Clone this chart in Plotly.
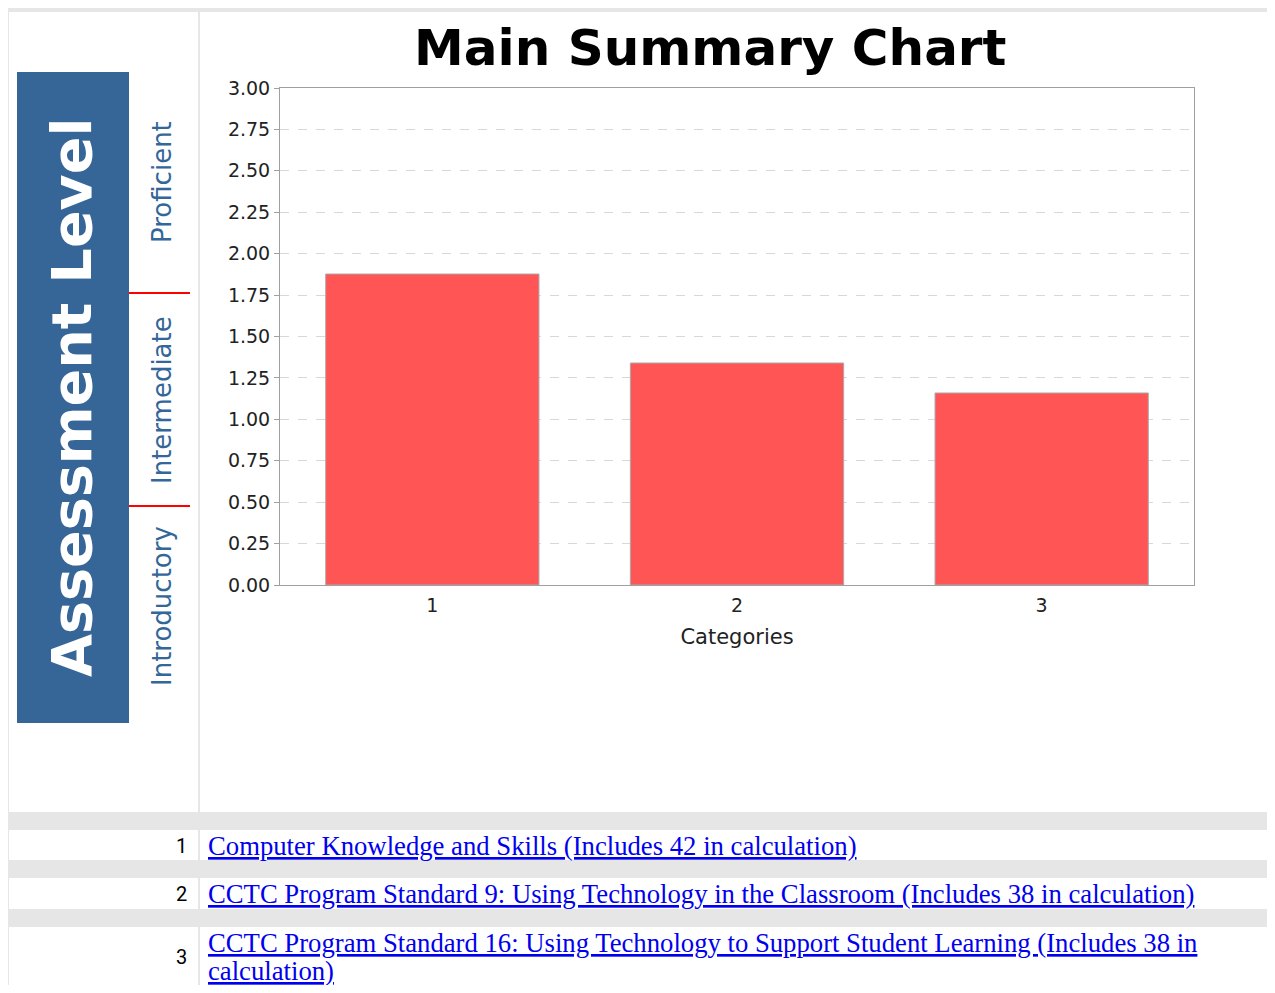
import plotly.graph_objects as go

# ---- data ----
categories = ["1", "2", "3"]
values = [1.877, 1.34, 1.159]
y_ticks = [0, 0.25, 0.5, 0.75, 1.0, 1.25, 1.5, 1.75, 2.0, 2.25, 2.5, 2.75, 3.0]
level_labels = ["Proficient", "Intermediate", "Introductory"]
row_numbers = ["1", "2", "3"]
row_texts = [
    "Computer Knowledge and Skills (Includes 42 in calculation)",
    "CCTC Program Standard 9: Using Technology in the Classroom (Includes 38 in calculation)",
    "CCTC Program Standard 16: Using Technology to Support Student Learning (Includes 38 in<br>calculation)",
]

# ---- pixel helpers (page has an 8px body margin) ----
OFF = 8
W, H = 1275 - 2 * OFF, 993 - 2 * OFF


def X(px):
    return (px - OFF) / W


def Y(py):
    return 1 - (py - OFF) / H


GRAY = "#e6e6e6"
shapes = []


def rect(x0, y0, x1, y1, color, line=None):
    shapes.append(dict(type="rect", xref="paper", yref="paper", x0=X(x0), x1=X(x1),
                       y0=Y(y1), y1=Y(y0), fillcolor=color,
                       line=dict(width=0) if line is None else line, layer="below"))


# table background and cells
rect(7, 2, 1280, 1000, GRAY)
rect(9, 12, 198, 812, "white")
rect(200, 12, 1273, 812, "white")
for (a, b) in [(830, 860), (878, 909), (927, 988)]:
    rect(9, a, 198, b, "white")
    rect(200, a, 1273, b, "white")

# blue band
rect(17, 72, 129, 723, "#356697")
# red separator lines
for yy in [293, 506]:
    shapes.append(dict(type="line", xref="paper", yref="paper", x0=X(129), x1=X(190),
                       y0=Y(yy), y1=Y(yy), line=dict(color="#ff0000", width=2)))

fig = go.Figure()
fig.add_trace(go.Bar(x=categories, y=values, marker=dict(color="#ff5555",
                     line=dict(color="#aaaaaa", width=1)), showlegend=False))

annotations = []
annotations.append(dict(text="<b>Main Summary Chart</b>", x=X(710), y=Y(48), xref="paper", yref="paper",
                        showarrow=False, xanchor="center", yanchor="middle",
                        font=dict(family="DejaVu Sans", size=50, color="black")))
annotations.append(dict(text="<b>Assessment Level</b>", x=X(71), y=Y(398), xref="paper", yref="paper",
                        showarrow=False, textangle=-90, xanchor="center", yanchor="middle",
                        font=dict(family="DejaVu Sans", size=55.5, color="white")))
for lab, yc in zip(level_labels, [182, 400, 606]):
    annotations.append(dict(text=lab, x=X(162), y=Y(yc), xref="paper", yref="paper",
                            showarrow=False, textangle=-90, xanchor="center", yanchor="middle",
                            font=dict(family="DejaVu Sans", size=26, color="#336699")))

row_line_centers = [[846], [894], [943, 971]]
for num, txt, centers in zip(row_numbers, row_texts, row_line_centers):
    yc = sum(centers) / len(centers)
    annotations.append(dict(text=num, x=X(189), y=Y(yc), xref="paper", yref="paper",
                            showarrow=False, xanchor="right", yanchor="middle",
                            font=dict(family="Roboto", size=20, color="black")))
    for line_txt, ly in zip(txt.split("<br>"), centers):
        annotations.append(dict(text="<u>" + line_txt + "</u>", x=X(206), y=Y(ly),
                                xref="paper", yref="paper",
                                showarrow=False, xanchor="left", yanchor="middle", align="left",
                                font=dict(family="Liberation Serif", size=26.7, color="#0000ee")))

fig.update_layout(
    width=W, height=H,
    margin=dict(l=0, r=0, t=0, b=0, autoexpand=False),
    paper_bgcolor="white", plot_bgcolor="white",
    bargap=0.30,
    shapes=shapes,
    annotations=annotations,
    xaxis=dict(domain=[X(280), X(1194)], type="category", showline=True, mirror=True,
               automargin=False,
               linecolor="#a0a0a0", linewidth=1, showgrid=False, ticks="outside", ticklen=3,
               tickcolor="rgba(0,0,0,0)",
               tickfont=dict(family="DejaVu Sans", size=19, color="#222222"),
               title=dict(text="Categories", standoff=14,
                          font=dict(family="DejaVu Sans", size=21, color="#222222"))),
    yaxis=dict(domain=[Y(585), Y(88)], range=[0, 3], tickvals=y_ticks, tickformat=".2f",
               automargin=False,
               showline=True, mirror=True, linecolor="#a0a0a0", linewidth=1,
               showgrid=True, gridcolor="#d8d8d8", griddash="dash", gridwidth=1,
               ticks="outside", ticklen=5, tickcolor="#a0a0a0", zeroline=False,
               tickfont=dict(family="DejaVu Sans", size=19, color="#222222")),
)

fig.write_html("out.html")
